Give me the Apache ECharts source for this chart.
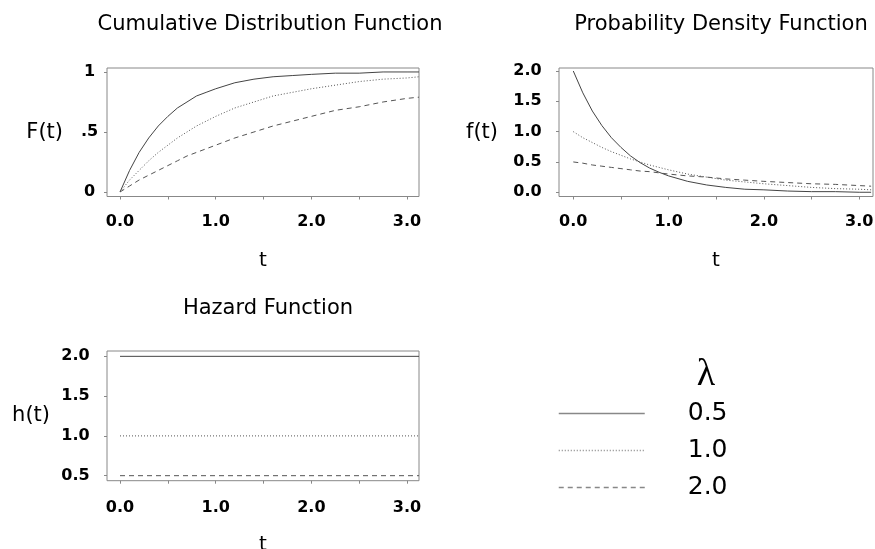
<!DOCTYPE html>
<html>
<head>
<meta charset="utf-8">
<script src="https://cdn.jsdelivr.net/npm/echarts@6/dist/echarts.min.js"></script>
<style>
  html, body { margin: 0; padding: 0; background: #fff; }
  #chart { width: 875px; height: 549px; }
</style>
</head>
<body>
<div id="chart"></div>
<script>
  // 读图得到的数据
  var lambdaNames = ['0.5', '1.0', '2.0'];
  var tValues = [0, 0.1, 0.2, 0.3, 0.4, 0.5, 0.6, 0.7, 0.8, 0.9, 1.0, 1.2, 1.4, 1.6, 1.8, 2.0, 2.25, 2.5, 2.75, 3.0, 3.125];

  // F(t)
  var cdfSolid  = [0, 0.18, 0.33, 0.45, 0.55, 0.63, 0.70, 0.75, 0.80, 0.83, 0.86, 0.91, 0.94, 0.96, 0.97, 0.98, 0.99, 0.99, 1.00, 1.00, 1.00];
  var cdfDotted = [0, 0.10, 0.18, 0.26, 0.33, 0.39, 0.45, 0.50, 0.55, 0.59, 0.63, 0.70, 0.75, 0.80, 0.83, 0.86, 0.89, 0.92, 0.94, 0.95, 0.96];
  var cdfDashed = [0, 0.05, 0.10, 0.14, 0.18, 0.22, 0.26, 0.30, 0.33, 0.36, 0.39, 0.45, 0.50, 0.55, 0.59, 0.63, 0.68, 0.71, 0.75, 0.78, 0.79];

  // f(t)
  var pdfSolid  = [2.00, 1.64, 1.34, 1.10, 0.90, 0.74, 0.60, 0.49, 0.40, 0.33, 0.27, 0.18, 0.12, 0.08, 0.05, 0.04, 0.02, 0.01, 0.01, 0.00, 0.00];
  var pdfDotted = [1.00, 0.90, 0.82, 0.74, 0.67, 0.61, 0.55, 0.50, 0.45, 0.41, 0.37, 0.30, 0.25, 0.20, 0.17, 0.14, 0.11, 0.08, 0.06, 0.05, 0.04];
  var pdfDashed = [0.50, 0.48, 0.45, 0.43, 0.41, 0.39, 0.37, 0.35, 0.34, 0.32, 0.30, 0.27, 0.25, 0.22, 0.20, 0.18, 0.16, 0.14, 0.13, 0.11, 0.10];

  // h(t)
  var tHazard = [0, 3.125];
  var hazSolid  = [2.0, 2.0];
  var hazDotted = [1.0, 1.0];
  var hazDashed = [0.5, 0.5];

  // 刻度
  var xTicks = [0, 0.5, 1.0, 1.5, 2.0, 2.5, 3.0];
  var xLabelTicks = [0, 1, 2, 3];
  var yTicksF = [0, 0.5, 1];
  var yLabelsF = ['0', '.5', '1'];
  var yTicksPdf = [0, 0.5, 1.0, 1.5, 2.0];
  var yTicksHaz = [0.5, 1.0, 1.5, 2.0];

  function zip(xs, ys) {
    return xs.map(function (x, i) { return [x, ys[i]]; });
  }

  var font = 'DejaVu Sans';
  var styles = [
    { type: 'solid', color: '#444' },
    { type: [1, 2], color: '#555' },
    { type: [5, 4], color: '#555' }
  ];

  function xAxis(idx, min, max, margin, nameGap) {
    return {
      type: 'value', gridIndex: idx, min: min, max: max,
      axisLine: { show: false, onZero: false },
      splitLine: { show: false },
      axisTick: { customValues: xTicks, length: 3, lineStyle: { color: '#888' } },
      axisLabel: {
        customValues: xLabelTicks, margin: margin,
        fontFamily: font, fontWeight: 'bold', fontSize: 16, color: '#000',
        formatter: function (v) { return v.toFixed(1); }
      },
      name: 't', nameLocation: 'middle', nameGap: nameGap,
      nameTextStyle: { fontFamily: font, fontSize: 20, color: '#000' }
    };
  }

  function yAxis(idx, min, max, ticks, fmt, margin, name, nameGap) {
    return {
      type: 'value', gridIndex: idx, min: min, max: max,
      axisLine: { show: false, onZero: false },
      splitLine: { show: false },
      axisTick: { customValues: ticks, length: 3, lineStyle: { color: '#888' } },
      axisLabel: {
        customValues: ticks, margin: margin, align: 'center',
        fontFamily: font, fontWeight: 'bold', fontSize: 16, color: '#000',
        formatter: fmt
      },
      name: name, nameLocation: 'middle', nameRotate: 0, nameGap: nameGap,
      nameTextStyle: { fontFamily: font, fontSize: 21, color: '#000' }
    };
  }

  function panelSeries(idx, xs, lists) {
    return lists.map(function (vals, k) {
      return {
        name: lambdaNames[k], type: 'line', xAxisIndex: idx, yAxisIndex: idx,
        data: zip(xs, vals), symbol: 'none', showSymbol: false,
        lineStyle: { width: 1, type: styles[k].type, color: styles[k].color },
        itemStyle: { color: styles[k].color },
        emphasis: { disabled: true }, silent: true
      };
    });
  }

  var myChart = echarts.init(document.getElementById('chart'));
  var gridBox = { show: true, borderColor: '#888', borderWidth: 1, backgroundColor: 'transparent', outerBoundsMode: 'none', containLabel: false };

  var option = {
    backgroundColor: '#fff',
    animation: false,
    title: [
      { text: 'Cumulative Distribution Function', left: 265, top: 9, textAlign: 'center',
        textStyle: { fontFamily: font, fontSize: 21, fontWeight: 'normal', color: '#000' } },
      { text: 'Probability Density Function', left: 716, top: 9, textAlign: 'center',
        textStyle: { fontFamily: font, fontSize: 21, fontWeight: 'normal', color: '#000' } },
      { text: 'Hazard Function', left: 263, top: 293, textAlign: 'center',
        textStyle: { fontFamily: font, fontSize: 21, fontWeight: 'normal', color: '#000' } },
      { text: 'λ', left: 701, top: 351, textAlign: 'center',
        textStyle: { fontFamily: 'Liberation Serif', fontSize: 38, fontWeight: 'normal', color: '#000' } }
    ],
    legend: {
      data: lambdaNames, orient: 'vertical', left: 558, top: 401, padding: 0,
      itemWidth: 86, itemHeight: 14, itemGap: 12,
      selectedMode: false,
      itemStyle: { opacity: 0, borderWidth: 0 },
      lineStyle: { width: 1.5, color: '#888' },
      textStyle: { fontFamily: font, fontSize: 25, color: '#000', padding: [0, 0, 0, 38] }
    },
    grid: [
      Object.assign({ left: 107, top: 68, width: 312, height: 128.5 }, gridBox),
      Object.assign({ left: 559, top: 68, width: 314, height: 128.5 }, gridBox),
      Object.assign({ left: 107, top: 351, width: 312, height: 129.7 }, gridBox)
    ],
    xAxis: [
      xAxis(0, -0.136, 3.125, 17, 54),
      xAxis(1, -0.15, 3.145, 17, 54),
      xAxis(2, -0.136, 3.125, 19.5, 54)
    ],
    yAxis: [
      yAxis(0, -0.0375, 1.033, yTicksF, function (v) { return yLabelsF[yTicksF.indexOf(v)]; }, 17.5, 'F(t)', 44),
      yAxis(1, -0.07, 2.05, yTicksPdf, function (v) { return v.toFixed(1); }, 31.5, 'f(t)', 61),
      yAxis(2, 0.437, 2.067, yTicksHaz, function (v) { return v.toFixed(1); }, 31.5, 'h(t)', 57)
    ],
    series: [].concat(
      panelSeries(0, tValues, [cdfSolid, cdfDotted, cdfDashed]),
      panelSeries(1, tValues, [pdfSolid, pdfDotted, pdfDashed]),
      panelSeries(2, tHazard, [hazSolid, hazDotted, hazDashed])
    )
  };

  myChart.setOption(option);
</script>
</body>
</html>
